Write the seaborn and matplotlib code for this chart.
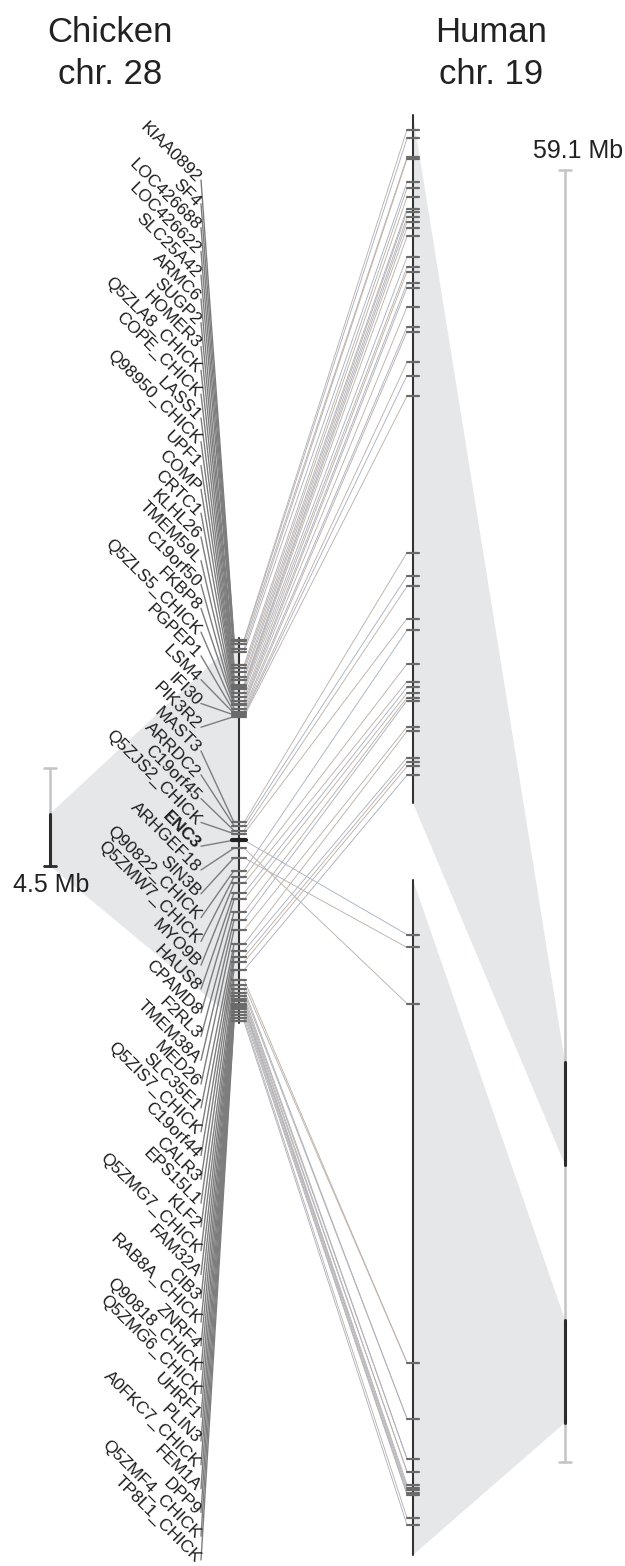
import numpy as np
import pandas as pd
import seaborn as sns
import matplotlib.pyplot as plt
from matplotlib.patches import Polygon

# chicken chr28 genes, listed top to bottom
genes = ["KIAA0892", "SF4", "LOC426688", "LOC426622", "SLC25A42", "ARMC6", "SUGP2",
         "HOMER3", "Q5ZLA8_CHICK", "COPE_CHICK", "LASS1", "Q98950_CHICK", "UPF1",
         "COMP", "CRTC1", "KLHL26", "TMEM59L", "C19orf50", "FKBP8", "Q5ZLS5_CHICK",
         "PGPEP1", "LSM4", "IFI30", "PIK3R2", "MAST3", "ARRDC2", "C19orf45",
         "Q5ZJS2_CHICK", "ENC3", "ARHGEF18", "SIN3B", "Q90822_CHICK", "Q5ZMW7_CHICK",
         "MYO9B", "HAUS8", "CPAMD8", "F2RL3", "TMEM38A", "MED26", "SLC35E1",
         "Q5ZIS7_CHICK", "C19orf44", "CALR3", "EPS15L1", "KLF2", "Q5ZMG7_CHICK",
         "FAM32A", "CIB3", "RAB8A_CHICK", "ZNRF4", "Q90818_CHICK", "Q5ZMG6_CHICK",
         "UHRF1", "PLIN3", "A0FKC7_CHICK", "FEM1A", "DPP9", "Q5ZMF4_CHICK", "TP8L1_CHICK"]

# position on chicken chr28 (Mb)
chick_mb = [2.11, 2.12, 2.14, 2.17, 2.19, 2.27, 2.29, 2.31, 2.34, 2.36, 2.39, 2.40,
            2.41, 2.42, 2.44, 2.47, 2.49, 2.51, 2.52, 2.54, 2.56, 2.57, 2.58, 2.59,
            3.25, 3.27, 3.30, 3.32, 3.36, 3.41, 3.47, 3.55, 3.59, 3.63, 3.69, 3.73, 3.81,
            3.86, 3.92, 4.01, 4.05, 4.09, 4.12, 4.17,
            4.23, 4.26, 4.29, 4.31, 4.33, 4.35, 4.36, 4.38, 4.39, 4.40, 4.41, 4.43,
            4.45, 4.47, 4.49]

# position of the orthologue on human chr19 (Mb)
human_mb = [40.90, 40.96, 41.09, 41.10, 41.26, 41.30, 41.36, 41.44, 41.46, 41.50,
            41.53, 41.57, 41.63, 41.77, 41.84, 41.87, 41.95, 41.98, 42.11, 42.25,
            42.28, 42.49, 42.58, 42.72,
            43.79, 43.95, 44.02, 44.24, 52.98, 53.46, 53.07, 44.32, 44.55, 44.67,
            44.71, 44.75, 44.78, 44.80, 44.98, 45.01, 45.19, 45.22, 45.25, 45.31,
            55.96, 55.96, 56.35, 56.35, 56.63, 56.63, 56.72, 56.72, 56.81, 56.83,
            56.85, 56.87, 56.88, 57.04, 57.09]

chick_len = 4.5
chick_window = (2.1, 4.5)
human_len = 59.1
human_windows = [(40.8, 45.5), (52.6, 57.3)]

# ---- page layout (pixels) ----
CX, C_TOP, C_BOT = 239, 638, 1023
HX = 413
H_SEGS = [(115, 803), (880, 1555)]
LBL_X, LBL_TOP, LBL_BOT = 198, 180, 1560
CBAR_X, CBAR_TOP, CBAR_BOT = 50, 768, 866
HBAR_X, HBAR_TOP, HBAR_BOT = 565, 170, 1462


def chick_y(mb):
    a, b = chick_window
    return C_TOP + (mb - a) / (b - a) * (C_BOT - C_TOP)


def human_y(mb):
    for (a, b), (y0, y1) in zip(human_windows, H_SEGS):
        if a - 0.01 <= mb <= b + 0.01:
            return y0 + (mb - a) / (b - a) * (y1 - y0)
    return np.nan


def cbar_y(mb):
    return CBAR_TOP + mb / chick_len * (CBAR_BOT - CBAR_TOP)


def hbar_y(mb):
    return HBAR_TOP + mb / human_len * (HBAR_BOT - HBAR_TOP)


sns.set_style("white")
plt.rcParams['font.family'] = ['Liberation Sans', 'DejaVu Sans']

fig = plt.figure(figsize=(6.25, 15.66), dpi=100)
ax = fig.add_axes([0, 0, 1, 1])
ax.set_xlim(0, 625)
ax.set_ylim(1566, 0)
ax.axis("off")

shade = "#e6e7e9"
# chicken zoom shading
ax.add_patch(Polygon([(CBAR_X, cbar_y(chick_window[0])), (CX, C_TOP), (CX, C_BOT),
                      (CBAR_X, cbar_y(chick_window[1]))], closed=True, fc=shade, ec="none", zorder=0))
# human zoom shading
for (a, b), (y0, y1) in zip(human_windows, H_SEGS):
    ax.add_patch(Polygon([(HX, y0), (HBAR_X, hbar_y(a)), (HBAR_X, hbar_y(b)), (HX, y1)],
                         closed=True, fc=shade, ec="none", zorder=0))

n = len(genes)
lbl_y = np.linspace(LBL_TOP, LBL_BOT, n)
cy = np.array([chick_y(v) for v in chick_mb])
hy = np.array([human_y(v) for v in human_mb])

# label -> chicken lines
lab = pd.DataFrame({
    "gene": np.repeat(genes, 2),
    "x": np.tile([LBL_X + 3, CX - 5], n),
    "y": np.ravel(np.column_stack([lbl_y, cy])),
})
sns.lineplot(data=lab, x="x", y="y", units="gene", estimator=None, sort=False,
             color="#7d7d7d", lw=1.0, ax=ax, zorder=2)

# chicken -> human links
tone = np.where(np.arange(n) % 3 == 1, "blue", "brown")
lk = pd.DataFrame({
    "gene": np.repeat(genes, 2),
    "tone": np.repeat(tone, 2),
    "x": np.tile([CX + 5, HX - 6], n),
    "y": np.ravel(np.column_stack([cy, hy])),
})
sns.lineplot(data=lk, x="x", y="y", units="gene", hue="tone", estimator=None, sort=False,
             palette={"brown": "#bdb2ab", "blue": "#aab2c2"}, lw=0.65, ax=ax,
             legend=False, zorder=2)

# chromosomes
ax.plot([CX, CX], [C_TOP, C_BOT], color="#333333", lw=1.5, zorder=3)
for y0, y1 in H_SEGS:
    ax.plot([HX, HX], [y0, y1], color="#333333", lw=1.5, zorder=3)

# gene ticks
for g, y in zip(genes, cy):
    if g == "ENC3":
        ax.plot([CX - 7, CX + 7], [y, y], color="#222222", lw=3, zorder=4)
    else:
        ax.plot([CX - 7, CX + 7], [y, y], color="#6a6a6a", lw=1.6, zorder=4)
for y in np.unique(hy):
    ax.plot([HX - 6, HX + 6], [y, y], color="#6a6a6a", lw=1.6, zorder=4)

# gene labels
for g, y in zip(genes, lbl_y):
    ax.text(LBL_X, y, g, rotation=-45, rotation_mode="anchor", ha="right", va="center",
            fontsize=12.5, color="#1e1e1e", fontweight="bold" if g == "ENC3" else "normal")

# scale bars
bar_grey = "#c4c4c4"
ax.plot([CBAR_X, CBAR_X], [CBAR_TOP, CBAR_BOT], color=bar_grey, lw=1.8, zorder=3)
ax.plot([CBAR_X - 6, CBAR_X + 6], [CBAR_TOP, CBAR_TOP], color=bar_grey, lw=1.8, zorder=3)
ax.plot([CBAR_X, CBAR_X], [cbar_y(chick_window[0]), cbar_y(chick_window[1])],
        color="#2b2b2b", lw=2.2, zorder=4)
ax.plot([CBAR_X - 6, CBAR_X + 6], [CBAR_BOT, CBAR_BOT], color="#2b2b2b", lw=2.0, zorder=4)
ax.text(CBAR_X + 1, CBAR_BOT + 19, f"{chick_len} Mb", ha="center", va="center",
        fontsize=18, color="#222222")

ax.plot([HBAR_X, HBAR_X], [HBAR_TOP, HBAR_BOT], color=bar_grey, lw=1.8, zorder=3)
for yy in (HBAR_TOP, HBAR_BOT):
    ax.plot([HBAR_X - 6, HBAR_X + 6], [yy, yy], color=bar_grey, lw=1.8, zorder=3)
for a, b in human_windows:
    ax.plot([HBAR_X, HBAR_X], [hbar_y(a), hbar_y(b)], color="#2b2b2b", lw=2.2, zorder=4)
ax.text(HBAR_X + 13, HBAR_TOP - 19, f"{human_len} Mb", ha="center", va="center",
        fontsize=18, color="#222222")

# titles
ax.text(110, 33, "Chicken", ha="center", va="center", fontsize=25, color="#222222")
ax.text(110, 75, "chr. 28", ha="center", va="center", fontsize=25, color="#222222")
ax.text(491, 33, "Human", ha="center", va="center", fontsize=25, color="#222222")
ax.text(491, 75, "chr. 19", ha="center", va="center", fontsize=25, color="#222222")

fig.savefig("out.png", dpi=100)
